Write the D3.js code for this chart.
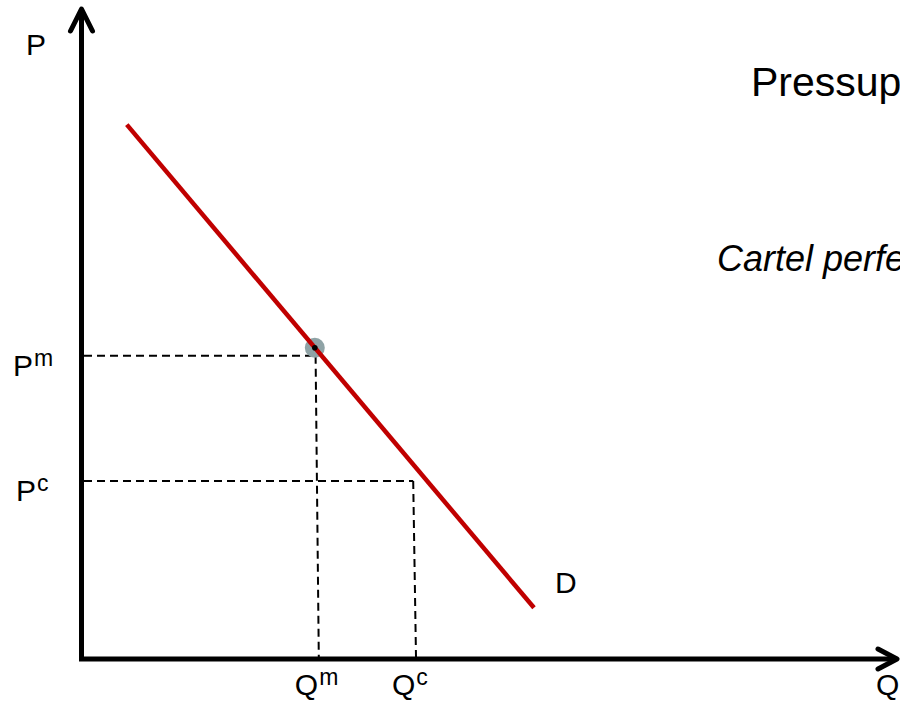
<!DOCTYPE html>
<html>
<head>
<meta charset="utf-8">
<script src="https://cdn.jsdelivr.net/npm/d3@7"></script>
<style>
  html, body { margin: 0; padding: 0; background: #fff; }
  svg { display: block; }
  text { font-family: "Liberation Sans", Arial, Helvetica, sans-serif; fill: #000; }
</style>
</head>
<body>
<svg id="chart" width="900" height="717"></svg>
<script>
// ---- data (abstract units: quantity 0-100, price 0-80) ----
const demandLine = [{q: 5.6, p: 66.8}, {q: 56.5, p: 6.4}];
const monopolyPoint = {q: 29.1, p: 38.9};
const priceLevels = [
  {name: "m", p: 37.9, qEnd: 29.2},
  {name: "c", p: 22.25, qEnd: 41.4}
];
const quantityLevels = [
  {name: "m", qTop: 29.2, qBottom: 29.6, pTop: 37.9},
  {name: "c", qTop: 41.4, qBottom: 41.75, pTop: 22.25}
];
const titleLines = ["Pressupostos", "Cartel perfeito"];
const axisNames = {price: "P", quantity: "Q", demand: "D"};

// ---- scales ----
const x = d3.scaleLinear().domain([0, 100]).range([82, 882]);
const y = d3.scaleLinear().domain([0, 80]).range([659, 19]);

const svg = d3.select("#chart");

// ---- dashed guide lines ----
svg.selectAll("line.hguide").data(priceLevels).enter().append("line")
  .attr("class", "hguide")
  .attr("x1", x(0) + 2).attr("x2", d => x(d.qEnd))
  .attr("y1", d => y(d.p)).attr("y2", d => y(d.p))
  .attr("stroke", "#000").attr("stroke-width", 2).attr("stroke-dasharray", "8,5");

svg.selectAll("line.vguide").data(quantityLevels).enter().append("line")
  .attr("class", "vguide")
  .attr("x1", d => x(d.qTop)).attr("x2", d => x(d.qBottom))
  .attr("y1", d => y(d.pTop)).attr("y2", y(0) - 2)
  .attr("stroke", "#000").attr("stroke-width", 2).attr("stroke-dasharray", "8,5");

// ---- monopoly point (behind line) ----
svg.append("circle")
  .attr("cx", x(monopolyPoint.q)).attr("cy", y(monopolyPoint.p)).attr("r", 10)
  .attr("fill", "#8fa3a6");

// ---- demand line ----
const lineGen = d3.line().x(d => x(d.q)).y(d => y(d.p));
svg.append("path").datum(demandLine)
  .attr("d", lineGen)
  .attr("fill", "none").attr("stroke", "#c00000").attr("stroke-width", 4.5);

svg.append("circle")
  .attr("cx", x(monopolyPoint.q)).attr("cy", y(monopolyPoint.p)).attr("r", 2.8)
  .attr("fill", "#000");

// ---- axes with open arrow heads ----
const axisG = svg.append("g").attr("fill", "none").attr("stroke", "#000")
  .attr("stroke-width", 5).attr("stroke-linecap", "round").attr("stroke-linejoin", "round");
const ox = x(0) - 0.5, oy = y(0);
const yTip = y(80) - 10, xTip = x(100) + 15;
axisG.append("line").attr("x1", ox).attr("y1", oy + 2).attr("x2", ox).attr("y2", yTip + 2)
  .attr("stroke-linecap", "butt");
axisG.append("path").attr("d", `M${ox - 11},${yTip + 22} L${ox},${yTip} L${ox + 11},${yTip + 22}`);
axisG.append("line").attr("x1", ox - 2.5).attr("y1", oy).attr("x2", xTip - 2).attr("y2", oy)
  .attr("stroke-linecap", "butt");
axisG.append("path").attr("d", `M${xTip - 19},${oy - 10} L${xTip},${oy} L${xTip - 19},${oy + 10}`);

// ---- labels ----
function supLabel(base, sup, xPos, yPos, size, supSize) {
  const t = svg.append("text").attr("x", xPos).attr("y", yPos).attr("font-size", size);
  t.append("tspan").text(base);
  if (sup) t.append("tspan").attr("dx", 1).attr("dy", -10).attr("font-size", supSize).text(sup);
  return t;
}
supLabel(axisNames.price, null, 26, 55, 30);
priceLevels.forEach((d, i) => {
  supLabel(axisNames.price, d.name, i === 0 ? 13 : 16, y(d.p) + 20, 30, 23);
});
quantityLevels.forEach(d => {
  supLabel(axisNames.quantity, d.name, x(d.qBottom) - 24, y(0) + 36, 30, 23);
});
svg.append("text").attr("x", x(100) - 6).attr("y", y(0) + 36).attr("font-size", 30).text(axisNames.quantity);
svg.append("text").attr("x", x(demandLine[1].q) + 21).attr("y", y(demandLine[1].p) - 15)
  .attr("font-size", 30).text(axisNames.demand);

svg.append("text").attr("x", 751).attr("y", 96).attr("font-size", 41).text(titleLines[0]);
svg.append("text").attr("x", 717).attr("y", 271).attr("font-size", 36).attr("font-style", "italic").text(titleLines[1]);
</script>
</body>
</html>
